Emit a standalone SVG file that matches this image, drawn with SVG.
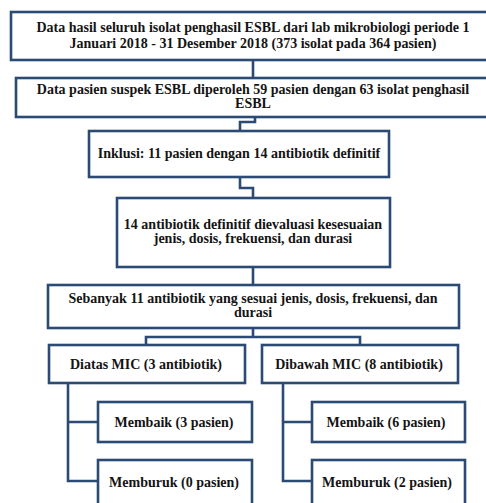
<svg xmlns="http://www.w3.org/2000/svg" width="486" height="503" viewBox="0 0 486 503">
<style>
.b{fill:#fff;stroke:#2b4a74;stroke-width:2.6}
.c{fill:none;stroke:#2b4a74;stroke-width:2.6}
text{font-family:"Liberation Serif","Times New Roman",serif;font-weight:bold;font-size:14px;fill:#141414;text-anchor:middle;dominant-baseline:central}
</style>
<rect width="486" height="503" fill="#fff"/>
<g id="connectors">
<path class="c" d="M253 60V78"/>
<path class="c" d="M255 117V122H240V131"/>
<path class="c" d="M240 177V188H253V198"/>
<path class="c" d="M253 267V285"/>
<path class="c" d="M253 328V337M146 345V337H360V345"/>
<path class="c" d="M68 383V481H98M68 422H98"/>
<path class="c" d="M283 383V481H312M283 422H312"/>
</g>
<g id="n1"><rect class="b" x="11" y="12" width="490" height="48"/>
<text x="253" y="27">Data hasil seluruh isolat penghasil ESBL dari lab mikrobiologi periode  1</text>
<text x="253" y="43">Januari  2018 - 31 Desember 2018 (373 isolat pada 364 pasien)</text></g>
<g id="n2"><rect class="b" x="16" y="78" width="485" height="39"/>
<text x="253" y="89.5">Data pasien suspek ESBL diperoleh 59 pasien dengan 63 isolat penghasil</text>
<text x="253" y="103.5">ESBL</text></g>
<g id="n3"><rect class="b" x="89" y="131" width="300" height="46"/>
<text x="239" y="153">Inklusi: 11 pasien dengan 14 antibiotik definitif</text></g>
<g id="n4"><rect class="b" x="117" y="198" width="273" height="69"/>
<text x="253" y="224.5">14 antibiotik definitif dievaluasi kesesuaian</text>
<text x="253" y="238.5">jenis, dosis, frekuensi, dan durasi</text></g>
<g id="n5"><rect class="b" x="48" y="285" width="411" height="43"/>
<text x="253" y="298">Sebanyak 11 antibiotik yang sesuai jenis, dosis, frekuensi, dan</text>
<text x="253" y="312">durasi</text></g>
<g id="n6"><rect class="b" x="49" y="345" width="196" height="38"/>
<text x="146" y="364">Diatas MIC (3 antibiotik)</text></g>
<g id="n7"><rect class="b" x="262" y="345" width="196" height="38"/>
<text x="359" y="364">Dibawah MIC (8 antibiotik)</text></g>
<g id="n8"><rect class="b" x="98" y="402" width="154" height="40"/>
<text x="174" y="422">Membaik (3 pasien)</text></g>
<g id="n9"><rect class="b" x="98" y="460" width="154" height="50"/>
<text x="174" y="482">Memburuk (0 pasien)</text></g>
<g id="n10"><rect class="b" x="312" y="402" width="153" height="40"/>
<text x="386" y="422">Membaik (6 pasien)</text></g>
<g id="n11"><rect class="b" x="312" y="460" width="153" height="50"/>
<text x="387" y="482">Memburuk (2 pasien)</text></g>
</svg>
